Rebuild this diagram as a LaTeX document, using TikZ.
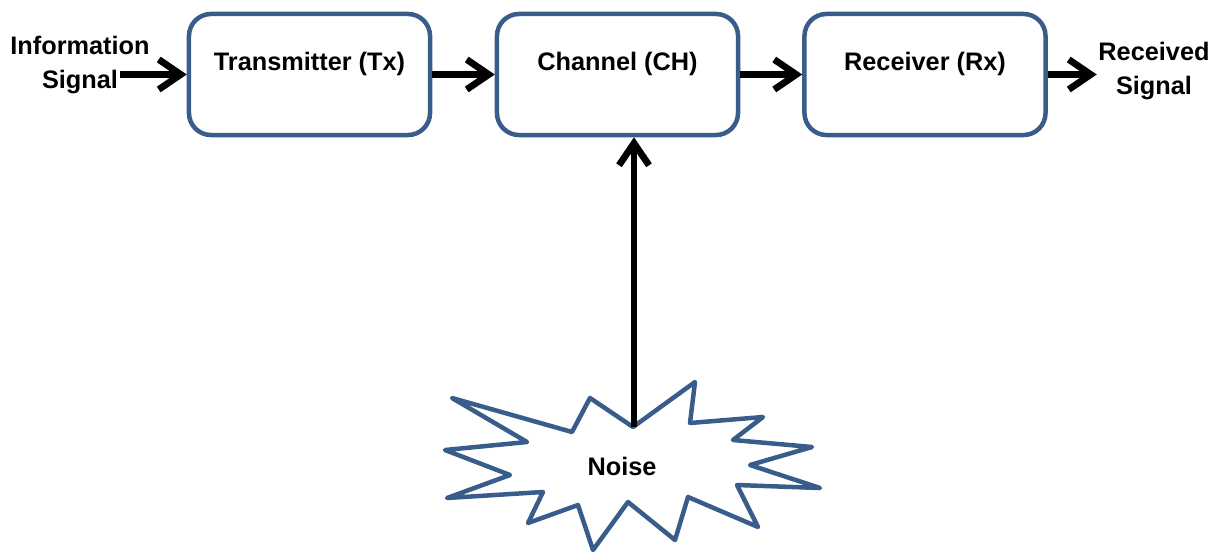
\documentclass[tikz,border=0pt]{standalone}
\usepackage{fontspec}
\setmainfont{Liberation Sans}
\usetikzlibrary{arrows.meta}
\definecolor{boxblue}{HTML}{385D8A}

\begin{document}
\begin{tikzpicture}[x=0.025cm,y=-0.025cm,>={Straight Barb[length=5.5mm,width=7.5mm]},
	blk/.style={rectangle,rounded corners=0.55cm,draw=boxblue,line width=3.2pt,minimum width=6.025cm,minimum height=3.025cm,text height=12pt,text depth=17pt},
	arr/.style={->,line width=4.8pt}]
	\tikzstyle{every node}=[font=\fontsize{18}{24}\selectfont\bfseries]
	\useasboundingbox (0,0) rectangle (1220,552);
	\draw (309.5,74.5) node(tx) [blk] {Transmitter (Tx)}
	      (617.5,74.5) node(ch) [blk] {Channel (CH)}
	      (925,74.5) node(rx) [blk] {Receiver (Rx)}
	      (80,65) node(info) [align=center,inner sep=1pt] {Information\\Signal}
	      (1154,71) node(out) [align=center,inner sep=1pt] {Received\\Signal}
	      (622,466) node(noise) {Noise};
	\coordinate (src) at (120,74.5);
	\coordinate (top) at (634,427);
	% noise burst
	\draw[draw=boxblue,line width=3.2pt,line join=round] (633,427) -- (695,382) -- (690,423) -- (763,417) -- (733,440) -- (812,447) -- (750,465) -- (820,488) -- (737,485) -- (758,527) -- (688,497) -- (675,540) -- (628,502) -- (593,550) -- (578,505) -- (528,523) -- (543,492) -- (447,498) -- (510,475) -- (445,450) -- (527,442) -- (452,398) -- (572,432) -- (590,398) -- cycle;
	\draw[arr] (src) to (tx);
	\draw[arr] (tx) to (ch);
	\draw[arr] (ch) to (rx);
	\draw[arr] (rx.east) -- (rx.east -| out.west);
	\draw[arr] (top) -- (top |- ch.south);
\end{tikzpicture}
\end{document}
